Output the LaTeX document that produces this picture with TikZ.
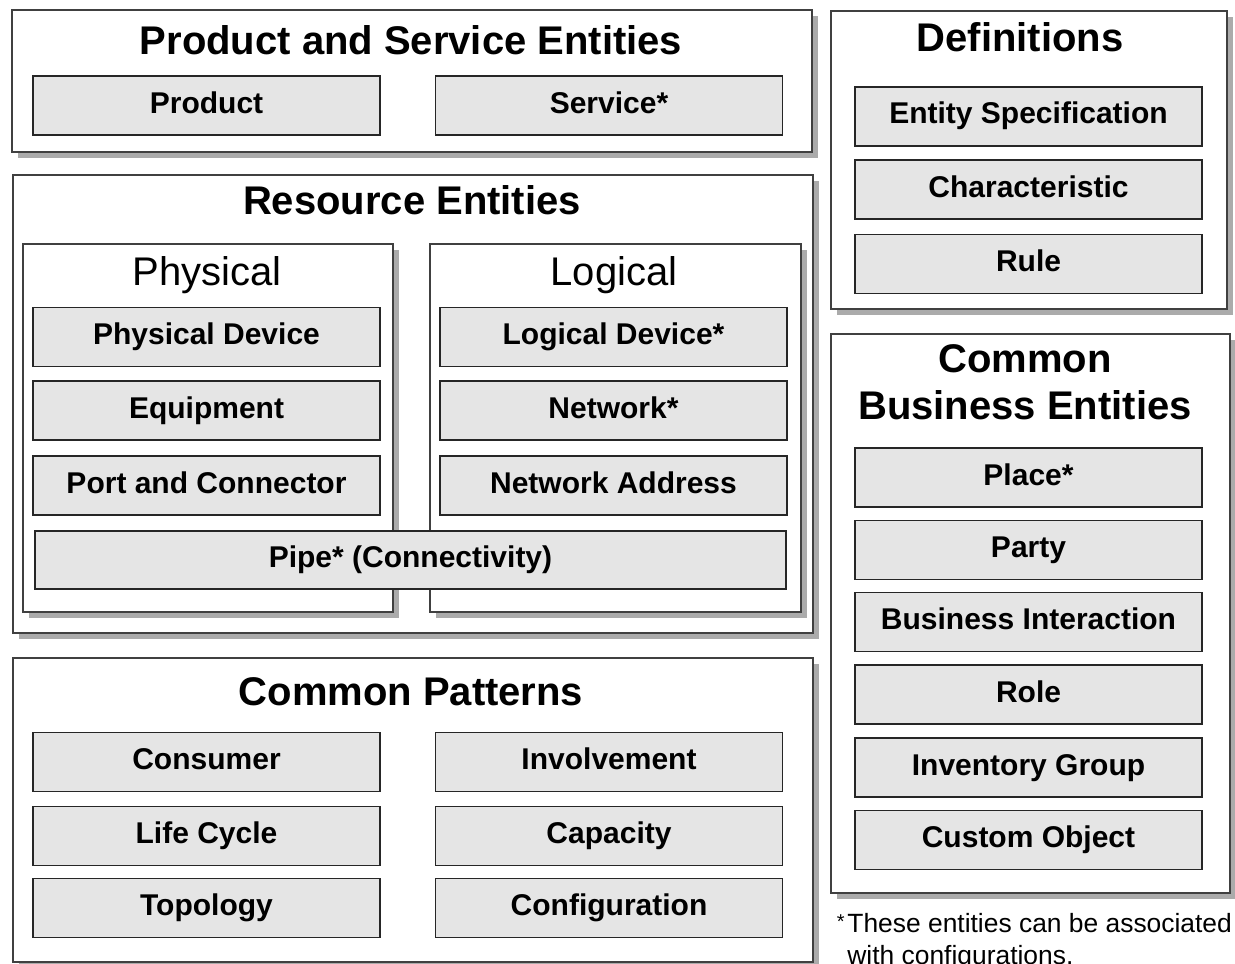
\documentclass[tikz,border=0pt]{standalone}
\usepackage{fontspec}
\setmainfont{Liberation Sans}
\usetikzlibrary{shadows}
\tikzset{
  panel/.style={draw=black!75, line width=1pt, fill=white, anchor=north west, inner sep=0pt,
    drop shadow={shadow xshift=3pt, shadow yshift=-3pt, fill=black!33, opacity=1}},
  entity/.style={draw=black!85, line width=0.9pt, fill=black!10, inner sep=0pt,
    minimum width=173.5pt, minimum height=29.5pt, text height=10.7pt, text depth=3.2pt,
    font=\bfseries\fontsize{15}{18}\selectfont},
  heading/.style={anchor=base, inner sep=0pt, font=\bfseries\fontsize{20}{24}\selectfont},
  subheading/.style={anchor=base, inner sep=0pt, font=\fontsize{20}{24}\selectfont},
  note/.style={anchor=base west, inner sep=0pt, font=\fontsize{13.2}{16}\selectfont},
}
\begin{document}
\begin{tikzpicture}[x=0.5pt, y=-0.5pt]
      \useasboundingbox (0,0) rectangle (1235,963);
      \clip (0,0) rectangle (1235,963);
      % frames
      \node[panel, minimum width=400pt, minimum height=71pt] (prodsvc) at (11,9) {};
      \node[panel, minimum width=400pt, minimum height=229pt] (resource) at (12,174) {};
      \node[panel, minimum width=185pt, minimum height=184pt] (physical) at (22,243) {};
      \node[panel, minimum width=185.5pt, minimum height=184pt] (logical) at (429,243) {};
      \node[panel, minimum width=400pt, minimum height=152pt] (patterns) at (12,657) {};
      \node[panel, minimum width=198pt, minimum height=149pt] (definitions) at (830,10) {};
      \node[panel, minimum width=199.5pt, minimum height=279.5pt] (business) at (830,333) {};
      % headings
      \node[heading] (prodsvctitle) at (411,55) {Product and Service Entities};
      \node[heading] (resourcetitle) at (412,214) {Resource Entities};
      \node[subheading] (physicaltitle) at (207,285) {Physical};
      \node[subheading] (logicaltitle) at (614,285) {Logical};
      \node[heading] (patternstitle) at (411,705) {Common Patterns};
      \node[heading] (definitionstitle) at (1020,52) {Definitions};
      \node[heading] (businesstitle) at (1025,372) {Common};
      \node[heading] (businesstitle2) at (1025,419) {Business Entities};
      % product and service
      \node[entity] (product) at (206.5,105.5) {Product};
      \node[entity] (service) at (609,105.5) {Service*};
      % resource
      \node[entity] (physdevice) at (206.5,337) {Physical Device};
      \node[entity] (equipment) at (206.5,410.5) {Equipment};
      \node[entity] (port) at (206.5,485.5) {Port and Connector};
      \node[entity] (logdevice) at (613.5,337) {Logical Device*};
      \node[entity] (network) at (613.5,410.5) {Network*};
      \node[entity] (netaddress) at (613.5,485.5) {Network Address};
      \node[entity, minimum width=375.5pt, minimum height=29pt] (pipe) at (410.5,560) {Pipe* (Connectivity)};
      % common patterns
      \node[entity] (consumer) at (206.5,762) {Consumer};
      \node[entity] (lifecycle) at (206.5,836) {Life Cycle};
      \node[entity] (topology) at (206.5,908) {Topology};
      \node[entity] (involvement) at (609,762) {Involvement};
      \node[entity] (capacity) at (609,836) {Capacity};
      \node[entity] (configuration) at (609,908) {Configuration};
      % definitions
      \node[entity] (entityspec) at (1028.5,116.5) {Entity Specification};
      \node[entity] (characteristic) at (1028.5,189.5) {Characteristic};
      \node[entity] (rule) at (1028.5,264) {Rule};
      % common business entities
      \node[entity] (place) at (1028.5,477.5) {Place*};
      \node[entity] (party) at (1028.5,550) {Party};
      \node[entity] (interaction) at (1028.5,622) {Business Interaction};
      \node[entity] (role) at (1028.5,694.5) {Role};
      \node[entity] (inventory) at (1028.5,767.5) {Inventory Group};
      \node[entity] (customobj) at (1028.5,840) {Custom Object};
      % footnote
      \node[note] (footnote) at (847,932) {These entities can be associated};
      \node[note] (footnote2) at (847,964) {with configurations.};
      \node[anchor=base east, inner sep=0pt, font=\fontsize{10}{12}\selectfont] (star) at ([xshift=-1pt, yshift=2pt]footnote.base west) {*};
    \end{tikzpicture}
\end{document}
